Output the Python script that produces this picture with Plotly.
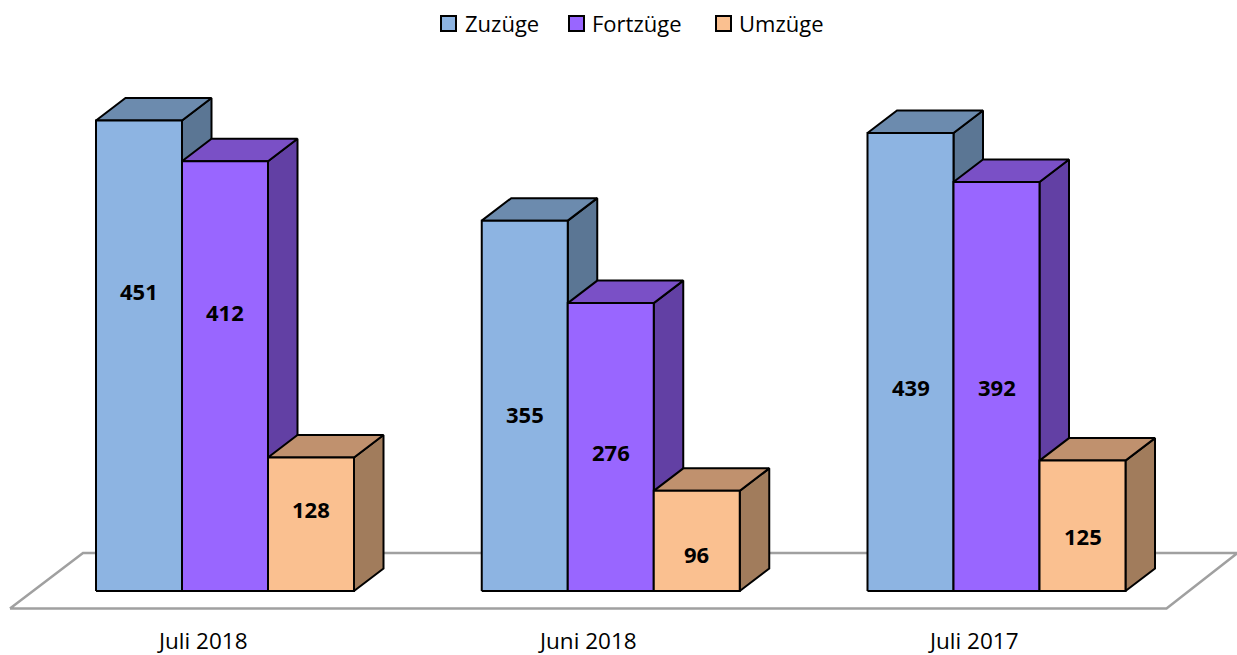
import plotly.graph_objects as go

# ---- data ----
categories = ["Juli 2018", "Juni 2018", "Juli 2017"]
series_names = ["Zuzüge", "Fortzüge", "Umzüge"]
zuzuege = [451, 355, 439]
fortzuege = [412, 276, 392]
umzuege = [128, 96, 125]
# label heights (value units)
label_heights = [[288, 170, 196], [267, 133, 196], [79, 35, 53]]

series_values = [zuzuege, fortzuege, umzuege]

# ---- styles ----
front_colors = ["#8DB4E2", "#9966FF", "#FAC090"]
top_colors = ["#6C8BAE", "#7A50C6", "#C0916E"]
side_colors = ["#5B7694", "#6240A4", "#A17C5C"]

W, H = 1237, 655
K = 1.0432          # px per value unit
BASE_PX = 591       # pixel row of value 0
y_range = [(BASE_PX - H) / K, BASE_PX / K]

group_left0 = 96
group_step = 385.75
bar_w = 86
dx = 29.5
dy = 22.5 / K

fig = go.Figure()

# floor
fl_front = -17.5 / K
fl_back = 38.0 / K
fl_dx = 73
fig.add_trace(go.Scatter(
    x=[10, 10 + fl_dx, 1237 + 0.5, 1166.5, 10],
    y=[fl_front, fl_back, fl_back, fl_front, fl_front],
    mode="lines", fill="toself", fillcolor="white",
    line=dict(color="#A0A0A0", width=2.5), hoverinfo="skip", showlegend=False))

ann = []
for gi, cat in enumerate(categories):
    gl = group_left0 + gi * group_step
    for si in range(3):
        v = series_values[si][gi]
        xl = gl + si * bar_w
        xr = xl + bar_w
        # side face
        fig.add_trace(go.Scatter(
            x=[xr, xr + dx, xr + dx, xr, xr],
            y=[0, dy, v + dy, v, 0],
            mode="lines", fill="toself", fillcolor=side_colors[si],
            line=dict(color="black", width=2), hoverinfo="skip", showlegend=False))
        # top face
        fig.add_trace(go.Scatter(
            x=[xl, xl + dx, xr + dx, xr, xl],
            y=[v, v + dy, v + dy, v, v],
            mode="lines", fill="toself", fillcolor=top_colors[si],
            line=dict(color="black", width=2), hoverinfo="skip", showlegend=False))
        # front face
        fig.add_trace(go.Scatter(
            x=[xl, xl, xr, xr, xl],
            y=[0, v, v, 0, 0],
            mode="lines", fill="toself", fillcolor=front_colors[si],
            line=dict(color="black", width=2), hoverinfo="skip", showlegend=False,
            name=series_names[si]))
        ann.append(dict(x=(xl + xr) / 2, y=label_heights[si][gi], text=str(v),
                        showarrow=False, xanchor="center", yanchor="middle",
                        font=dict(family="Open Sans", size=22, color="black", weight="bold")))
    ann.append(dict(x=gl + 1.5 * bar_w - 23, y=(BASE_PX - 640) / K, text=cat,
                    showarrow=False, xanchor="center", yanchor="middle",
                    font=dict(family="Open Sans", size=22.5, color="black")))

# legend (manual)
leg_items = [(441, 463), (569, 590), (716, 737)]
shapes = []
for si, (mx, tx) in enumerate(leg_items):
    shapes.append(dict(type="rect", xref="paper", yref="paper",
                       x0=mx / W, x1=(mx + 15) / W, y0=1 - 31 / H, y1=1 - 16 / H,
                       fillcolor=front_colors[si], line=dict(color="black", width=2)))
    ann.append(dict(xref="paper", yref="paper", x=tx / W, y=1 - 22.5 / H,
                    text=series_names[si], showarrow=False, xanchor="left", yanchor="middle",
                    font=dict(family="Open Sans", size=22, color="black")))

fig.update_layout(
    width=W, height=H, autosize=False,
    margin=dict(l=0, r=0, t=0, b=0),
    paper_bgcolor="white", plot_bgcolor="white",
    xaxis=dict(range=[0, W], visible=False, fixedrange=True),
    yaxis=dict(range=y_range, visible=False, fixedrange=True),
    annotations=ann, shapes=shapes, showlegend=False,
)

fig.write_html("out.html", config={"displayModeBar": False},
               post_script="document.body.style.margin='0px';document.body.style.overflow='hidden';")
